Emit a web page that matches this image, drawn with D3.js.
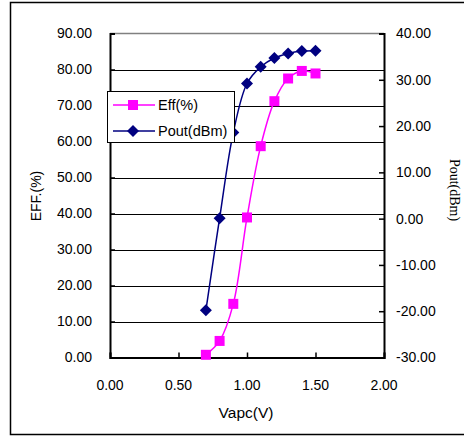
<!DOCTYPE html>
<html><head><meta charset="utf-8">
<script src="https://cdnjs.cloudflare.com/ajax/libs/d3/7.8.5/d3.min.js"></script>
<style>body{margin:0;background:#fff}svg{display:block}text{font-family:Arial,"Liberation Sans",sans-serif;fill:#000}</style>
</head><body><svg id="c" width="464" height="436"></svg>
<script>
const vapc = [0.7, 0.8, 0.9, 1.0, 1.1, 1.2, 1.3, 1.4, 1.5];
const effValues = [0.75, 4.6, 14.9, 38.9, 58.7, 71.2, 77.5, 79.6, 78.9];
const poutValues = [-19.8, 0.1, 18.6, 29.2, 32.8, 34.7, 35.7, 36.2, 36.3];
const xTicks = [0, 0.5, 1.0, 1.5, 2.0];
const leftTicks = [0, 10, 20, 30, 40, 50, 60, 70, 80, 90];
const rightTicks = [-30, -20, -10, 0, 10, 20, 30, 40];
const seriesNames = ["Eff(%)", "Pout(dBm)"];

const svg = d3.select("#c");
const L = 110, R = 384, T = 33.5, B = 357.5;
const x = d3.scaleLinear().domain([0, 2]).range([L, R]);
const yL = d3.scaleLinear().domain([0, 90]).range([B, T]);
const yR = d3.scaleLinear().domain([-30, 40]).range([B, T]);
const fmt = d => d3.format(".2f")(d).replace("\u2212", "-");

// outer frame
svg.append("rect").attr("x", 10.5).attr("y", 2.5).attr("width", 470).attr("height", 432)
  .attr("fill", "#fff").attr("stroke", "#000").attr("stroke-width", 1.5);

// gridlines
svg.append("g").selectAll("line").data(leftTicks.slice(1, -1)).join("line")
  .attr("x1", L).attr("x2", R).attr("y1", d => Math.round(yL(d)) + 0.5).attr("y2", d => Math.round(yL(d)) + 0.5)
  .attr("stroke", "#000").attr("stroke-width", 1);
svg.append("line").attr("x1", L).attr("x2", R).attr("y1", T).attr("y2", T).attr("stroke", "#808080").attr("stroke-width", 1.5);

// axes
const axL = svg.append("g").attr("transform", `translate(${L},0)`)
  .call(d3.axisRight(yL).tickValues(leftTicks).tickSize(5).tickFormat(""));
const axR = svg.append("g").attr("transform", `translate(${R},0)`)
  .call(d3.axisLeft(yR).tickValues(rightTicks).tickSize(5).tickFormat(""));
const axB = svg.append("g").attr("transform", `translate(0,${B})`)
  .call(d3.axisTop(x).tickValues(xTicks).tickSize(5).tickFormat(""));
[axL, axR, axB].forEach(a => { a.selectAll("path").attr("stroke", "#000").attr("stroke-width", 2); a.selectAll("line").attr("stroke", "#000").attr("stroke-width", 1.5); });

// tick labels
svg.append("g").selectAll("text").data(leftTicks).join("text")
  .attr("x", 92).attr("y", d => yL(d)).attr("dy", "0.35em").attr("text-anchor", "end")
  .attr("font-size", 14).text(d => fmt(d));
svg.append("g").selectAll("text").data(rightTicks).join("text")
  .attr("x", 396).attr("y", d => yR(d)).attr("dy", "0.35em").attr("text-anchor", "start")
  .attr("font-size", 14).text(d => fmt(d));
svg.append("g").selectAll("text").data(xTicks).join("text")
  .attr("x", d => x(d)).attr("y", 385).attr("dy", "0.35em").attr("text-anchor", "middle")
  .attr("font-size", 14).text(d => fmt(d));

// axis titles
svg.append("text").attr("x", 246).attr("y", 413).attr("dy", "0.35em").attr("text-anchor", "middle")
  .attr("font-size", 15.5).text("Vapc(V)");
svg.append("text").attr("transform", "translate(36,196) rotate(-90)").attr("dy", "0.35em")
  .attr("text-anchor", "middle").attr("font-size", 14).text("EFF.(%)");
svg.append("text").attr("transform", "translate(455,190) rotate(90)").attr("dy", "0.35em")
  .attr("text-anchor", "middle").attr("font-size", 14)
  .style("font-family", "'Liberation Serif','Times New Roman',serif").text("Pout(dBm)");

// series
const effPts = vapc.map((v, i) => [x(v), yL(effValues[i])]);
const poutPts = vapc.map((v, i) => [x(v), yR(poutValues[i])]);
const line = d3.line().curve(d3.curveCatmullRom.alpha(0.5));
svg.append("path").attr("d", line(effPts)).attr("fill", "none").attr("stroke", "#FF00FF").attr("stroke-width", 1.5);
svg.append("path").attr("d", line(poutPts)).attr("fill", "none").attr("stroke", "#000080").attr("stroke-width", 1.5);

const sq = "M-5,-5H5V5H-5Z";
const dm = "M0,-6L6,0L0,6L-6,0Z";
svg.append("g").selectAll("path").data(effPts).join("path")
  .attr("transform", d => `translate(${d[0]},${d[1]})`).attr("d", sq).attr("fill", "#FF00FF");
svg.append("g").selectAll("path").data(poutPts).join("path")
  .attr("transform", d => `translate(${d[0]},${d[1]})`).attr("d", dm).attr("fill", "#000080");

// legend
const lg = svg.append("g");
lg.append("rect").attr("x", 107.5).attr("y", 91.5).attr("width", 127).attr("height", 51)
  .attr("fill", "#fff").attr("stroke", "#000").attr("stroke-width", 1);
const rows = [{name: seriesNames[0], color: "#FF00FF", sym: sq, y: 105},
              {name: seriesNames[1], color: "#000080", sym: dm, y: 131}];
rows.forEach(r => {
  lg.append("line").attr("x1", 113).attr("x2", 155).attr("y1", r.y).attr("y2", r.y).attr("stroke", r.color).attr("stroke-width", 1.5);
  lg.append("path").attr("transform", `translate(133,${r.y})`).attr("d", r.sym).attr("fill", r.color);
  lg.append("text").attr("x", 158).attr("y", r.y).attr("dy", "0.35em").attr("font-size", 14.5).text(r.name);
});
</script></body></html>
